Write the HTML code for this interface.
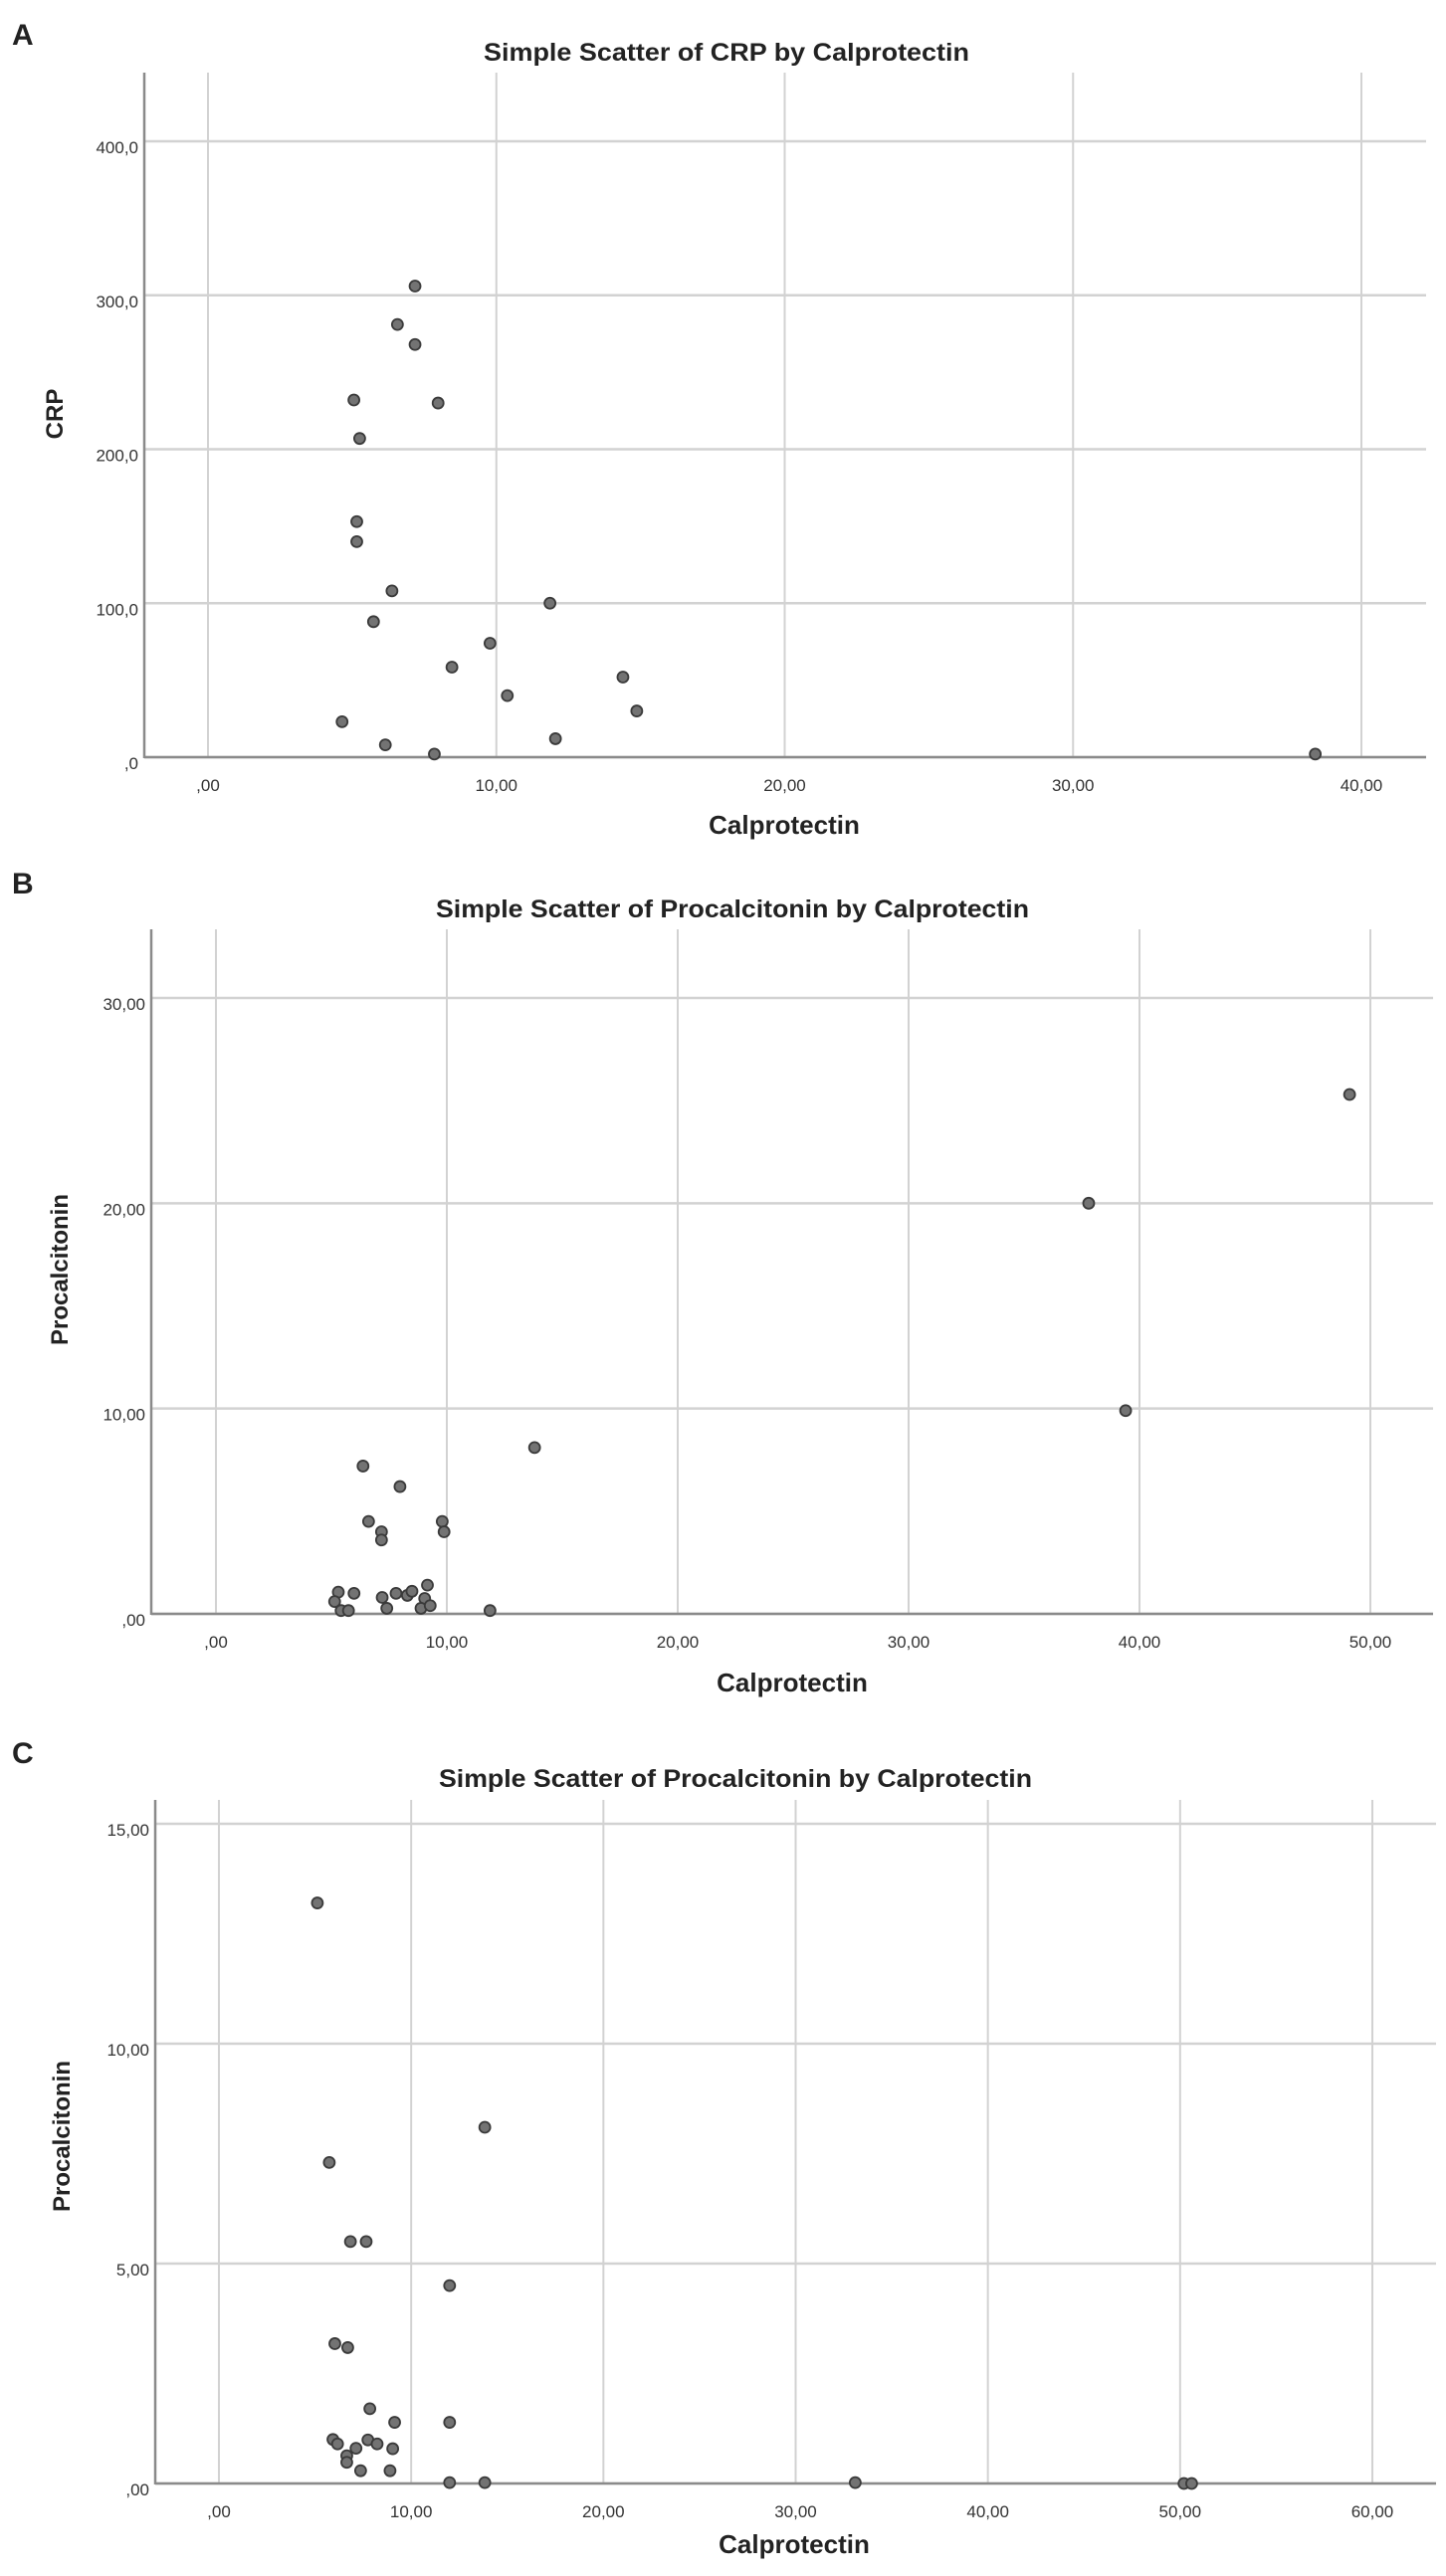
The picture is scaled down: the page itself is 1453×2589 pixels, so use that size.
<!DOCTYPE html>
<html><head><meta charset="utf-8">
<style>
html,body{margin:0;padding:0;background:#fff;}
svg{display:block;}
text{font-family:"Liberation Sans Narrow","Liberation Sans",sans-serif;fill:#222;}
.title{font-weight:bold;font-size:25px;}
.tick{font-size:17px;fill:#333;}
.xtitle{font-weight:bold;font-size:26px;}
.ytitle{font-family:"Liberation Sans",sans-serif;font-weight:bold;font-size:24px;}
.panel{font-family:"Liberation Sans",sans-serif;font-weight:bold;font-size:30px;}
</style></head>
<body>
<svg id="fig" width="1453" height="2589" viewBox="0 0 1453 2589" xmlns="http://www.w3.org/2000/svg"></svg>
<script>
// Chart A data
const aXTicks = [0,10,20,30,40];
const aXTickLabels = [",00","10,00","20,00","30,00","40,00"];
const aYTicks = [0,100,200,300,400];
const aYTickLabels = [",0","100,0","200,0","300,0","400,0"];
const aCalpro = [7.18,6.57,7.18,5.06,7.98,5.26,5.16,5.16,6.38,11.86,5.74,9.78,8.46,14.39,10.38,14.87,4.65,12.05,6.15,7.85,38.4];
const aCRP = [306,281,268,232,230,207,153,140,108,100,88,74,58.5,52,40,30,23,12,8,2,2];
// Chart B data
const bXTicks = [0,10,20,30,40,50];
const bXTickLabels = [",00","10,00","20,00","30,00","40,00","50,00"];
const bYTicks = [0,10,20,30];
const bYTickLabels = [",00","10,00","20,00","30,00"];
const bCalpro = [49.1,37.8,39.4,13.8,6.37,7.97,6.61,9.8,9.88,7.17,7.17,5.3,5.98,5.14,5.42,5.74,7.2,7.4,7.8,8.29,8.49,9.16,9.04,8.88,9.28,11.87];
const bPct = [25.3,20.0,9.9,8.1,7.2,6.2,4.5,4.5,4.0,4.0,3.6,1.06,1.0,0.6,0.16,0.16,0.8,0.27,1.0,0.9,1.1,1.4,0.75,0.27,0.4,0.16];
// Chart C data
const cXTicks = [0,10,20,30,40,50,60];
const cXTickLabels = [",00","10,00","20,00","30,00","40,00","50,00","60,00"];
const cYTicks = [0,5,10,15];
const cYTickLabels = [",00","5,00","10,00","15,00"];
const cCalpro = [5.12,5.74,13.83,6.84,7.66,12.0,6.03,6.7,7.85,9.14,12.0,5.93,6.17,7.75,8.23,9.04,7.13,6.65,6.65,7.37,8.9,12.0,13.83,33.1,50.2,50.6];
const cPct = [13.2,7.3,8.1,5.5,5.5,4.5,3.18,3.09,1.7,1.39,1.39,1.0,0.9,0.99,0.9,0.79,0.8,0.63,0.48,0.29,0.29,0.02,0.02,0.02,0,0];

const NS = "http://www.w3.org/2000/svg";
const svg = document.getElementById('fig');
function mk(tag, attrs, parent){
  const e = document.createElementNS(NS, tag);
  for (const k in attrs) e.setAttribute(k, attrs[k]);
  parent.appendChild(e); return e;
}
function drawChart(c){
  const g = mk('g', {}, svg);
  
  
  const sx = v => c.x0 + (v - c.xd0) / (c.xd1 - c.xd0) * (c.x1 - c.x0);
  const sy = v => c.y0 - (v - c.yd0) / (c.yd1 - c.yd0) * (c.y0 - c.y1);
  const pl = mk('text', {x:c.letterX, y:c.letterY, class:'panel'}, g); pl.textContent = c.letter;
  
  
  const t = mk('text', {x:c.titleX, y:c.titleY, class:'title', 'text-anchor':'middle', textLength:c.titleW, lengthAdjust:'spacingAndGlyphs'}, g); t.textContent = c.title;
  
  
  c.xTicks.forEach((v,i)=>{
    const l = mk('line', {x1:sx(v), x2:sx(v), y1:c.top, y2:c.axisY, stroke:'#d2d2d2', 'stroke-width':2}, g);
    
    
    const tx = mk('text', {x:sx(v), y:c.axisY+34, class:'tick', 'text-anchor':'middle'}, g); tx.textContent = c.xLabels[i];
    
    
  });
  c.yTicks.forEach((v,i)=>{
    const l = mk('line', {x1:c.axisX, x2:c.right, y1:sy(v), y2:sy(v), stroke:'#d2d2d2', 'stroke-width':2.5}, g);
    
    
    const ty = mk('text', {x:c.axisX-6, y:sy(v)+12, class:'tick', 'text-anchor':'end'}, g); ty.textContent = c.yLabels[i];
    
    
  });
  const ya = mk('line', {x1:c.axisX, x2:c.axisX, y1:c.top, y2:c.axisY+1, stroke:'#8a8a8a', 'stroke-width':2.5}, g);
  
  
  const xa = mk('line', {x1:c.axisX, x2:c.right, y1:c.axisY, y2:c.axisY, stroke:'#8a8a8a', 'stroke-width':2.5}, g);
  
  
  c.xs.forEach((v,i)=>{
    const p = mk('circle', {cx:sx(v), cy:sy(c.ys[i]), r:5.5, fill:'#737373', stroke:'#3a3a3a', 'stroke-width':1.8}, g);
    
    
  });
  const xt = mk('text', {x:c.xtX, y:c.xtY, class:'xtitle', 'text-anchor':'middle'}, g); xt.textContent = 'Calprotectin';
  
  
  const yt = mk('text', {x:0, y:0, class:'ytitle', 'text-anchor':'middle', transform:`translate(${c.ytX},${c.ytY}) rotate(-90)`}, g); yt.textContent = c.yTitle;
  
  
}
drawChart({id:'chart-a-crp', letter:'A', letterX:12, letterY:45, title:'Simple Scatter of CRP by Calprotectin', titleX:730, titleY:61, titleW:488,
  x0:209, x1:1368, xd0:0, xd1:40, y0:761, y1:142, yd0:0, yd1:400, axisX:145, axisY:761, top:73, right:1433,
  xTicks:aXTicks, xLabels:aXTickLabels, yTicks:aYTicks, yLabels:aYTickLabels, xs:aCalpro, ys:aCRP,
  xtX:788, xtY:838, ytX:63, ytY:416, yTitle:'CRP'});
drawChart({id:'chart-b-procalcitonin', letter:'B', letterX:12, letterY:898, title:'Simple Scatter of Procalcitonin by Calprotectin', titleX:736, titleY:922, titleW:596,
  x0:217, x1:1377, xd0:0, xd1:50, y0:1622, y1:1003, yd0:0, yd1:30, axisX:152, axisY:1622, top:934, right:1440,
  xTicks:bXTicks, xLabels:bXTickLabels, yTicks:bYTicks, yLabels:bYTickLabels, xs:bCalpro, ys:bPct,
  xtX:796, xtY:1700, ytX:68, ytY:1276, yTitle:'Procalcitonin'});
drawChart({id:'chart-c-procalcitonin', letter:'C', letterX:12, letterY:1772, title:'Simple Scatter of Procalcitonin by Calprotectin', titleX:739, titleY:1796, titleW:596,
  x0:220, x1:1379, xd0:0, xd1:60, y0:2496, y1:1833, yd0:0, yd1:15, axisX:156, axisY:2496, top:1809, right:1443,
  xTicks:cXTicks, xLabels:cXTickLabels, yTicks:cYTicks, yLabels:cYTickLabels, xs:cCalpro, ys:cPct,
  xtX:798, xtY:2566, ytX:70, ytY:2147, yTitle:'Procalcitonin'});
</script>
</body></html>
